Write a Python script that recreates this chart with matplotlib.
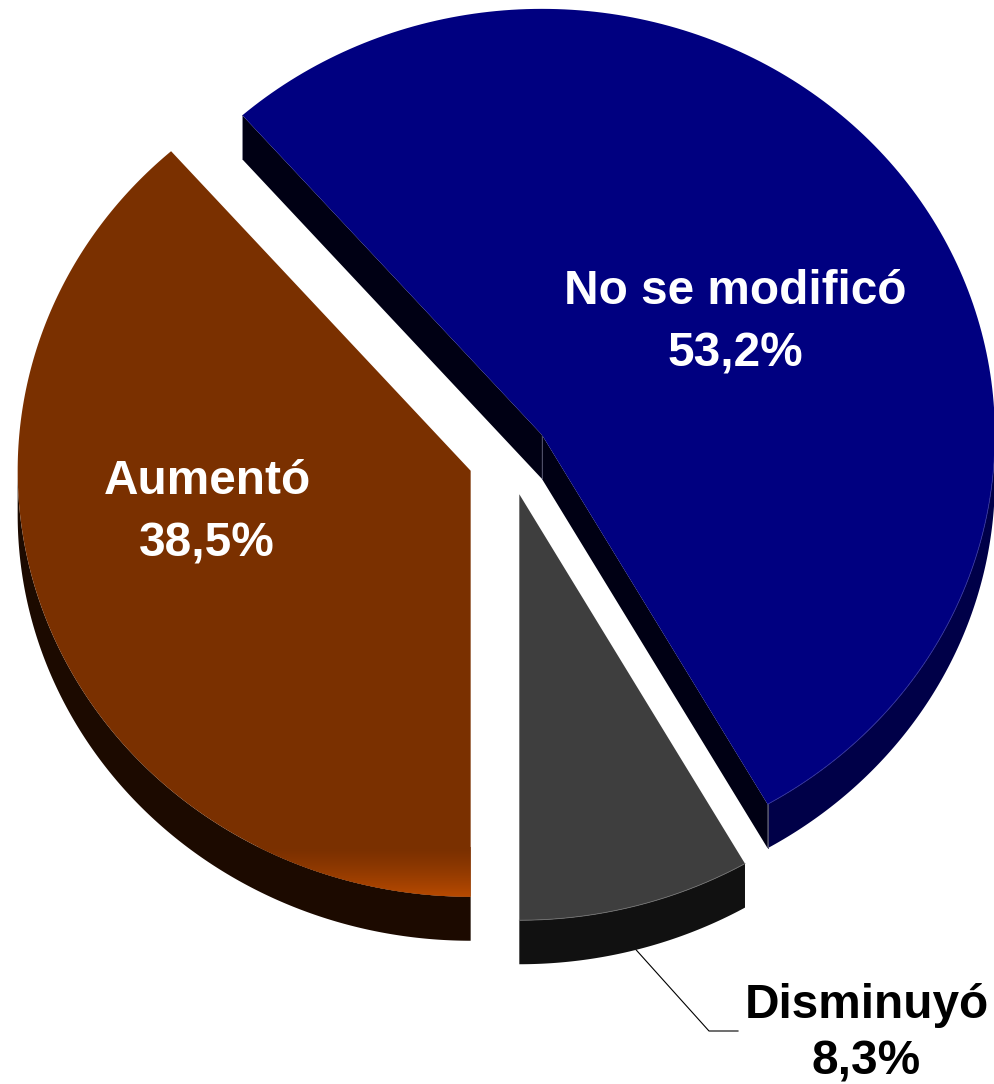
import matplotlib
matplotlib.use("Agg")
import matplotlib.pyplot as plt
import numpy as np
from matplotlib.patches import Polygon

labels = ["Aumentó", "No se modificó", "Disminuyó"]
shares = [38.5, 53.2, 8.3]
share_text = ["38,5%", "53,2%", "8,3%"]

top_colors = ["#7a3000", "#000080", "#3e3e3e"]
rim_colors = ["#1c0a00", "#000048", "#111111"]
wall_colors = ["#1c0a00", "#000014", "#111111"]
edge_colors = ["none", "#30309a", "#707070"]
text_colors = ["white", "white", "black"]
label_pos = [(207, 494), (735, 304), (866.5, 1018)]
line_gaps = [62, 62, 57]

# pie geometry, in pixels
cx, cy = 508.8, 457.2
rx, ry = 453, 426
explode = 0.09
depth = 44
first_angle = 270.0

plt.rcParams["font.family"] = ["Liberation Sans", "DejaVu Sans"]
fig = plt.figure(figsize=(9.94, 10.84), dpi=100)
ax = fig.add_axes([0, 0, 1, 1])
ax.set_xlim(0, 994)
ax.set_ylim(1084, 0)
ax.axis("off")


def rim(x0, y0, a1, a2, n=200):
    t = np.radians(np.linspace(a1, a2, n))
    return np.column_stack([x0 + rx * np.cos(t), y0 - ry * np.sin(t)])


angle = first_angle
leader_start = None
for i, share in enumerate(shares):
    a1 = angle
    a2 = angle - share * 3.6
    angle = a2
    mid = np.radians((a1 + a2) / 2)
    x0 = cx + explode * rx * np.cos(mid)
    y0 = cy - explode * ry * np.sin(mid)
    arc = rim(x0, y0, a1, a2)
    down = np.array([0, depth])
    apex = np.array([x0, y0])

    # outer wall, only the part of the rim that faces the viewer
    low_a = np.linspace(a1, a2, 400)
    low_a = low_a[np.sin(np.radians(low_a)) <= 0]
    low = rim(x0, y0, low_a[0], low_a[-1])
    ax.add_patch(Polygon(np.vstack([low, (low + down)[::-1]]), fc=rim_colors[i], ec="none", zorder=2))

    # cut walls are only seen on the big slice
    if labels[i] == "No se modificó":
        for end in (arc[0], arc[-1]):
            ax.add_patch(Polygon([apex, end, end + down, apex + down], fc=wall_colors[i], ec="none", zorder=2.5))
        ax.plot([x0, x0], [y0, y0 + depth], color="#50506a", lw=0.7, zorder=3)
        ax.plot([arc[-1][0]] * 2, [arc[-1][1], arc[-1][1] + depth], color="#50506a", lw=0.7, zorder=3)
        ax.plot([arc[0][0]] * 2, [arc[0][1], arc[0][1] + depth], color="#8a8a9a", lw=0.7, zorder=3)

    face = Polygon(np.vstack([apex, arc]), fc=top_colors[i], ec="none", zorder=3)
    ax.add_patch(face)
    if edge_colors[i] != "none":
        ax.plot(low[:, 0], low[:, 1], color=edge_colors[i], lw=0.6, zorder=4)

    if labels[i] == "Aumentó":
        # orange glow at the bottom of the slice
        grad = np.linspace(0, 1, 256).reshape(-1, 1) ** 1.3
        c1 = np.array(matplotlib.colors.to_rgb("#7a3000"))
        c2 = np.array(matplotlib.colors.to_rgb("#b84a00"))
        img = c1 + (c2 - c1) * grad[..., None]
        glow = ax.imshow(img, extent=(0, x0 - 0.5, y0 + ry, y0 + ry - 50), aspect="auto", zorder=3.2)
        glow.set_clip_path(face)
        ax.set_xlim(0, 994)
        ax.set_ylim(1084, 0)
    if labels[i] == "Disminuyó":
        leader_start = (x0 + rx * np.cos(mid), y0 - ry * np.sin(mid) + depth)

    tx, ty = label_pos[i]
    ax.text(tx, ty, labels[i], color=text_colors[i], fontsize=34.4, fontweight="bold",
            ha="center", va="baseline", zorder=6)
    ax.text(tx, ty + line_gaps[i], share_text[i], color=text_colors[i], fontsize=34.4, fontweight="bold",
            ha="center", va="baseline", zorder=6)

ax.plot([leader_start[0], 709, 738], [leader_start[1], 1031, 1031], color="black", lw=0.8, zorder=1)

fig.savefig("out.png", dpi=100, facecolor="white")
